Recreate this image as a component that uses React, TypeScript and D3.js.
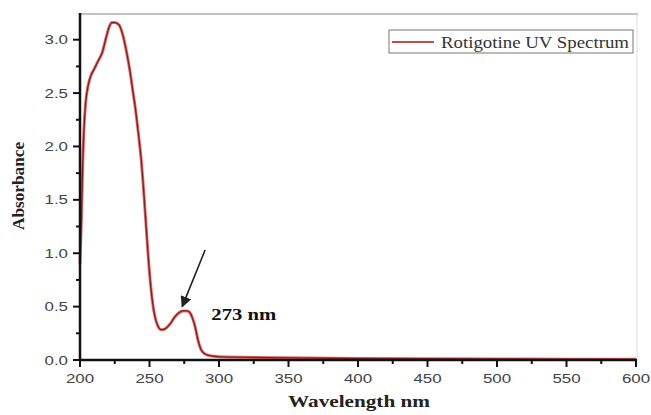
import React from "react";
import * as d3 from "d3";

// wavelength (nm) and absorbance
const wavelengths = [
  200, 201, 202, 203, 204, 206, 208, 210, 213, 216, 219, 221, 223, 225, 228,
  230, 232, 234, 236, 238, 240, 242, 244, 246, 248, 250, 252, 254, 256, 258,
  260, 262, 265, 268, 271, 274, 277, 279, 281, 283, 285, 287, 289, 292, 296,
  300, 320, 350, 400, 450, 500, 550, 600,
];
const absorbance = [
  0.9, 1.3, 1.85, 2.2, 2.4, 2.58, 2.67, 2.72, 2.8, 2.88, 3.03, 3.12, 3.16,
  3.16, 3.14, 3.08, 2.98, 2.85, 2.7, 2.52, 2.34, 2.12, 1.88, 1.55, 1.17, 0.82,
  0.56, 0.4, 0.32, 0.285, 0.285, 0.3, 0.34, 0.4, 0.44, 0.46, 0.46, 0.445, 0.39,
  0.3, 0.18, 0.1, 0.065, 0.045, 0.035, 0.03, 0.025, 0.02, 0.015, 0.012, 0.01,
  0.008, 0.006,
];

const seriesName = "Rotigotine UV Spectrum";
const peakLabel = "273 nm";
// arrow tail / tip and label anchor, in data units
const arrowFrom = [290, 1.03];
const arrowTo = [273.5, 0.5];
const labelAt = [294.5, 0.375];

const xTicks = [200, 250, 300, 350, 400, 450, 500, 550, 600];
const yTicks = [0, 0.5, 1, 1.5, 2, 2.5, 3];

const W = 651;
const H = 415;
const serif = "'Liberation Serif', 'Times New Roman', serif";
const sans = "'Liberation Sans', Arial, sans-serif";

export default function App() {
  const x = d3.scaleLinear().domain([200, 600]).range([80, 636]);
  const y = d3.scaleLinear().domain([0, 3.25]).range([360, 13]);

  const pts = wavelengths.map((w, i) => [w, absorbance[i]] as [number, number]);
  const line = d3
    .line<[number, number]>()
    .x((d) => x(d[0]))
    .y((d) => y(d[1]))
    .curve(d3.curveMonotoneX);
  const path = line(pts) || "";

  const xMinor = d3.range(225, 600, 50);
  const yMinor = d3.range(0.25, 3.25, 0.5);

  const x0 = x(200);
  const x1 = x(600);
  const y0 = y(0);
  const yTop = y(3.25);

  return (
    <svg
      width={W}
      height={H}
      style={{ position: "absolute", left: 0, top: 0, background: "#fff" }}
    >
      <defs>
        <marker
          id="ah"
          viewBox="0 0 10 10"
          refX="9"
          refY="5"
          markerWidth="7"
          markerHeight="7"
          orient="auto"
        >
          <path d="M0,0 L10,5 L0,10 z" fill="#222" />
        </marker>
      </defs>

      {/* frame top / right */}
      <line x1={x0} x2={x1 + 2} y1={yTop + 1} y2={yTop + 1} stroke="#888" strokeWidth={1} />
      <line x1={x1 + 1} x2={x1 + 1} y1={yTop + 1} y2={y0} stroke="#ddd" strokeWidth={1} />

      {/* spectrum */}
      <path d={path} fill="none" stroke="#e07070" strokeWidth={3} />
      <path d={path} fill="none" stroke="#8e1b1b" strokeWidth={1.3} />

      {/* axes */}
      <line x1={x0} x2={x0} y1={yTop} y2={y0 + 1} stroke="#111" strokeWidth={2.5} />
      <line x1={x0 - 1} x2={x1 + 1} y1={y0} y2={y0} stroke="#111" strokeWidth={2.5} />

      {xTicks.map((t) => (
        <g key={"xt" + t}>
          <line x1={x(t)} x2={x(t)} y1={y0} y2={y0 + 7} stroke="#111" strokeWidth={2} />
          <text
            transform={`translate(${x(t)},${y0 + 23}) scale(1.3,1)`}
            textAnchor="middle"
            fontFamily={sans}
            fontSize={13}
            fill="#444"
          >
            {t}
          </text>
        </g>
      ))}
      {xMinor.map((t) => (
        <line key={"xm" + t} x1={x(t)} x2={x(t)} y1={y0} y2={y0 + 4} stroke="#111" strokeWidth={2} />
      ))}

      {yTicks.map((t) => (
        <g key={"yt" + t}>
          <line x1={x0 - 7} x2={x0} y1={y(t)} y2={y(t)} stroke="#111" strokeWidth={2} />
          <text
            transform={`translate(${x0 - 12},${y(t) + 4.5}) scale(1.3,1)`}
            textAnchor="end"
            fontFamily={sans}
            fontSize={13}
            fill="#444"
          >
            {t.toFixed(1)}
          </text>
        </g>
      ))}
      {yMinor.map((t) => (
        <line key={"ym" + t} x1={x0 - 4} x2={x0} y1={y(t)} y2={y(t)} stroke="#111" strokeWidth={2} />
      ))}

      {/* axis titles */}
      <text
        x={359}
        y={407}
        textAnchor="middle"
        fontFamily={serif}
        fontWeight="bold"
        fontSize={16}
        textLength={142}
        lengthAdjust="spacingAndGlyphs"
        fill="#222"
      >
        Wavelength nm
      </text>
      <text
        transform="translate(24,186) rotate(-90)"
        textAnchor="middle"
        fontFamily={serif}
        fontWeight="bold"
        fontSize={16}
        textLength={88}
        lengthAdjust="spacingAndGlyphs"
        fill="#222"
      >
        Absorbance
      </text>

      {/* annotation */}
      <line
        x1={x(arrowFrom[0])}
        y1={y(arrowFrom[1])}
        x2={x(arrowTo[0])}
        y2={y(arrowTo[1])}
        stroke="#222"
        strokeWidth={1.6}
        markerEnd="url(#ah)"
      />
      <text
        x={x(labelAt[0])}
        y={y(labelAt[1])}
        fontFamily={serif}
        fontWeight="bold"
        fontSize={16}
        textLength={65}
        lengthAdjust="spacingAndGlyphs"
        fill="#111"
      >
        {peakLabel}
      </text>

      {/* legend */}
      <rect x={389} y={30} width={244} height={23} fill="#fff" stroke="#777" strokeWidth={1} />
      <line x1={392} x2={434} y1={42} y2={42} stroke="#c0504d" strokeWidth={2} />
      <text
        x={441}
        y={47.5}
        fontFamily={serif}
        fontSize={16}
        textLength={188}
        lengthAdjust="spacingAndGlyphs"
        fill="#333"
      >
        {seriesName}
      </text>
    </svg>
  );
}
